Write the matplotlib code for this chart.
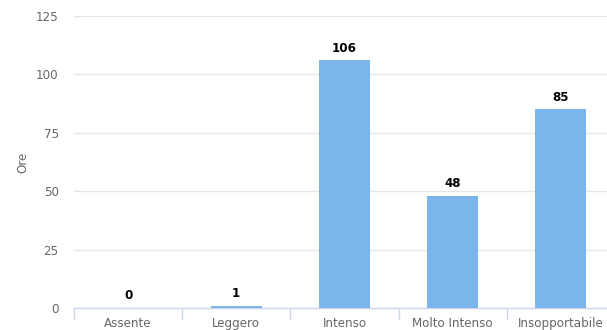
import matplotlib
matplotlib.use("Agg")
import matplotlib.pyplot as plt
import numpy as np

categories = ["Assente", "Leggero", "Intenso", "Molto Intenso", "Insopportabile"]
ore = [0, 1, 106, 48, 85]
y_ticks = [0, 25, 50, 75, 100, 125]

W, H = 607, 330
fig = plt.figure(figsize=(W / 100, H / 100), dpi=100)
left_px, right_px, top_px, bottom_px = 74, 615, 16, 308
ax = fig.add_axes([left_px / W, 1 - bottom_px / H,
                   (right_px - left_px) / W, (bottom_px - top_px) / H])

x = np.arange(len(categories))
ax.bar(x, ore, width=0.47, color="#7cb5ec", zorder=3)
for xi, v in zip(x, ore):
    ax.annotate(str(v), (xi, v), xytext=(0, 4), textcoords="offset points",
                ha="center", va="bottom", fontsize=8.6, fontweight="bold",
                color="#000000", zorder=4)

ax.set_xlim(-0.5, len(categories) - 0.5)
ax.set_ylim(0, 125)
ax.set_yticks(y_ticks)
ax.yaxis.grid(True, color="#e6e6e6", linewidth=1)
ax.set_axisbelow(True)
ax.tick_params(axis="y", length=0, labelsize=8.6, labelcolor="#666666", pad=11)

ax.set_xticks(x)
ax.set_xticklabels(categories)
ax.tick_params(axis="x", length=0, labelsize=8.6, labelcolor="#666666", pad=6.5)
ax.set_xticks(np.arange(len(categories)) - 0.5, minor=True)
ax.tick_params(axis="x", which="minor", length=8, color="#ccd6eb", width=1)

for s in ["top", "right", "left"]:
    ax.spines[s].set_visible(False)
ax.spines["bottom"].set_color("#ccd6eb")
ax.spines["bottom"].set_linewidth(1)

ax.set_ylabel("Ore", fontsize=8.6, color="#666666")
ax.yaxis.set_label_coords((29 - left_px) / (right_px - left_px), 0.5)

fig.savefig("out.png", dpi=100)
